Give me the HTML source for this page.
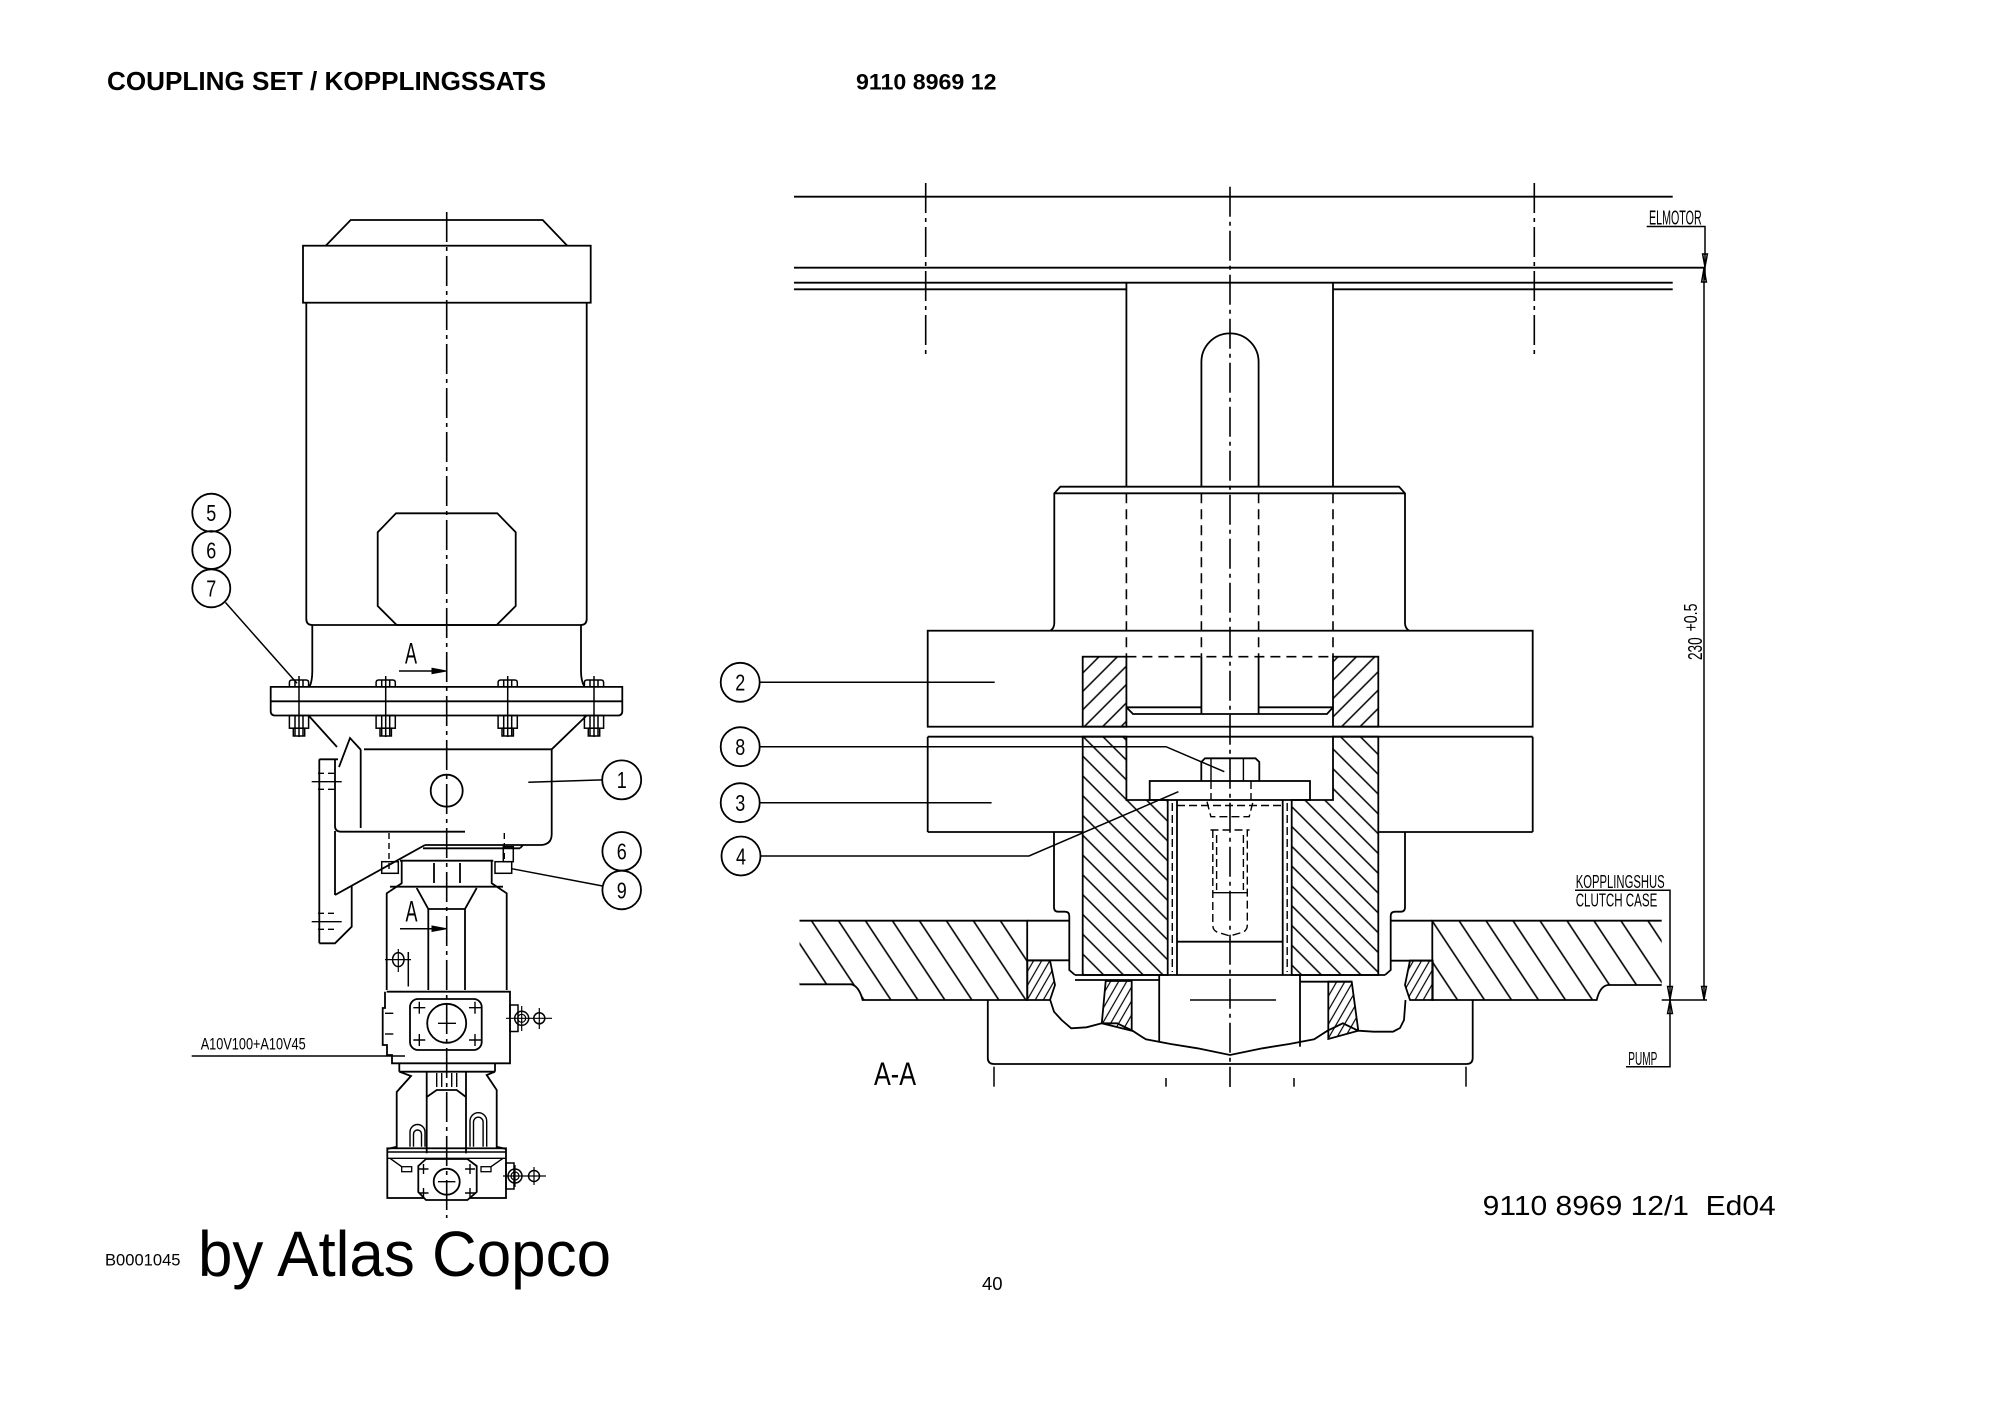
<!DOCTYPE html>
<html><head><meta charset="utf-8">
<style>
html,body{margin:0;padding:0;background:#fff;}
svg{display:block;}
text{font-family:"Liberation Sans",Arial,sans-serif;fill:#000;stroke:none;}
</style></head><body>
<svg width="2000" height="1415" viewBox="0 0 2000 1415" xmlns="http://www.w3.org/2000/svg">
<defs>
<pattern id="hs" patternUnits="userSpaceOnUse" width="13" height="13" patternTransform="rotate(45)"><line x1="6.5" y1="0" x2="6.5" y2="13" stroke="#000" stroke-width="1.5"/></pattern>
<pattern id="hb" patternUnits="userSpaceOnUse" width="14" height="14" patternTransform="rotate(-45)"><line x1="7" y1="0" x2="7" y2="14" stroke="#000" stroke-width="1.5"/></pattern>
<pattern id="hc" patternUnits="userSpaceOnUse" width="22.5" height="22.5" patternTransform="rotate(-33.5)"><line x1="11" y1="0" x2="11" y2="22.5" stroke="#000" stroke-width="1.6"/></pattern>
<pattern id="hp" patternUnits="userSpaceOnUse" width="7" height="7" patternTransform="rotate(30)"><line x1="3.5" y1="0" x2="3.5" y2="7" stroke="#000" stroke-width="1.2"/></pattern>
</defs>

<!-- HEADER -->
<text x="107" y="90" font-size="26" font-weight="bold" textLength="439" lengthAdjust="spacingAndGlyphs">COUPLING SET / KOPPLINGSSATS</text>
<text x="856" y="89.5" font-size="22.5" font-weight="bold" textLength="140.5" lengthAdjust="spacingAndGlyphs">9110 8969 12</text>

<g fill="none" stroke="#000" stroke-width="1.8">

<!-- ================= LEFT DRAWING ================= -->
<!-- motor cap -->
<polyline points="325.7,245.7 350.7,220 542.7,220 567.3,245.7"/>
<rect x="303" y="245.7" width="287.7" height="57"/>
<!-- motor body -->
<path d="M306.3,302.7 V619 Q306.3,625 312.3,625 H580.7 Q586.7,625 586.7,619 V302.7"/>
<!-- neck -->
<path d="M312.3,625 V671 Q312.3,681 309.5,686.9"/>
<path d="M581,625 V671 Q581,681 584.5,686.9"/>
<!-- terminal box -->
<polygon points="396,513.3 497.3,513.3 515.7,532.3 515.7,606 496.7,625 396.7,625 377.7,606 377.7,532.3"/>

<!-- flange -->
<path d="M270.7,686.9 H622.3 V711 Q622.3,715.5 618,715.5 H275 Q270.7,715.5 270.7,711 Z"/>
<line x1="270.7" y1="701.3" x2="622.3" y2="701.3"/>
<!-- bolts -->
<g stroke-width="1.5">
<path d="M289.4,686.9 V682.5 Q289.4,680 292,680 H306 Q308.6,680 308.6,682.5 V686.9"/>
<line x1="295" y1="680" x2="295" y2="686.9"/><line x1="303" y1="680" x2="303" y2="686.9"/>
<line x1="299" y1="676" x2="299" y2="737"/>
<rect x="289.4" y="715.5" width="19.2" height="12.7"/><rect x="293.3" y="728.2" width="11.4" height="7.8"/>
<line x1="295" y1="715.5" x2="295" y2="736"/><line x1="303" y1="715.5" x2="303" y2="736"/>

<path d="M376.1,686.9 V682.5 Q376.1,680 378.7,680 H392.7 Q395.3,680 395.3,682.5 V686.9"/>
<line x1="381.7" y1="680" x2="381.7" y2="686.9"/><line x1="389.7" y1="680" x2="389.7" y2="686.9"/>
<line x1="385.7" y1="676" x2="385.7" y2="737"/>
<rect x="376.1" y="715.5" width="19.2" height="12.7"/><rect x="380" y="728.2" width="11.4" height="7.8"/>
<line x1="381.7" y1="715.5" x2="381.7" y2="736"/><line x1="389.7" y1="715.5" x2="389.7" y2="736"/>

<path d="M498.1,686.9 V682.5 Q498.1,680 500.7,680 H514.7 Q517.3,680 517.3,682.5 V686.9"/>
<line x1="503.7" y1="680" x2="503.7" y2="686.9"/><line x1="511.7" y1="680" x2="511.7" y2="686.9"/>
<line x1="507.7" y1="676" x2="507.7" y2="737"/>
<rect x="498.1" y="715.5" width="19.2" height="12.7"/><rect x="502" y="728.2" width="11.4" height="7.8"/>
<line x1="503.7" y1="715.5" x2="503.7" y2="736"/><line x1="511.7" y1="715.5" x2="511.7" y2="736"/>

<path d="M584.4,686.9 V682.5 Q584.4,680 587,680 H601 Q603.6,680 603.6,682.5 V686.9"/>
<line x1="590" y1="680" x2="590" y2="686.9"/><line x1="598" y1="680" x2="598" y2="686.9"/>
<line x1="594" y1="676" x2="594" y2="737"/>
<rect x="584.4" y="715.5" width="19.2" height="12.7"/><rect x="588.3" y="728.2" width="11.4" height="7.8"/>
<line x1="590" y1="715.5" x2="590" y2="736"/><line x1="598" y1="715.5" x2="598" y2="736"/>
</g>

<!-- balloons 5 6 7 -->
<circle cx="211.3" cy="512.7" r="19"/>
<circle cx="211.3" cy="550" r="19"/>
<circle cx="211.3" cy="588.3" r="19"/>
<line x1="225.5" y1="602.5" x2="297" y2="683.3" stroke-width="1.5"/>

<!-- section arrow A (upper) -->
<line x1="399" y1="671" x2="433" y2="671" stroke-width="1.5"/>
<polygon points="432,668.3 446.7,671 432,673.7" fill="#000" stroke-width="1"/>

<!-- housing part 1 -->
<line x1="309" y1="716" x2="337" y2="747"/>
<polyline points="339,767 350,738 361,750"/>
<line x1="360.7" y1="750" x2="360.7" y2="828"/>
<line x1="364" y1="749.3" x2="551.7" y2="749.3"/>
<line x1="551.7" y1="749.3" x2="586.7" y2="715.5"/>
<path d="M551.7,749.3 V834 Q551.7,845 540,845 H425"/>
<line x1="423" y1="848.3" x2="520" y2="848.3"/>
<line x1="520" y1="848.3" x2="523" y2="845"/>
<path d="M335,760 V826 Q335,831.7 341,831.7 H465"/>
<circle cx="446.7" cy="790.7" r="16"/>
<!-- bracket -->
<line x1="319.3" y1="759.3" x2="338" y2="759.3"/>
<line x1="319.3" y1="759.3" x2="319.3" y2="943.3"/>
<line x1="335" y1="831" x2="335" y2="895"/>
<polyline points="319.3,943.3 335,943.3 351.7,926.7 351.7,886"/>
<line x1="335" y1="895" x2="425" y2="845"/>
<g stroke-width="1.4">
<line x1="311.7" y1="781.7" x2="341.7" y2="781.7"/>
<line x1="311.7" y1="921.7" x2="341.7" y2="921.7"/>
</g>
<g stroke-width="1.4" stroke-dasharray="6 4">
<line x1="318" y1="773.3" x2="335" y2="773.3"/><line x1="318" y1="789.3" x2="335" y2="789.3"/>
<line x1="318" y1="913.3" x2="335" y2="913.3"/><line x1="318" y1="929.3" x2="335" y2="929.3"/>
<line x1="389" y1="833" x2="389" y2="873"/>
<line x1="504.3" y1="833" x2="504.3" y2="863"/>
</g>
<!-- balloon 1 -->
<line x1="528.3" y1="782.3" x2="602.3" y2="779.9" stroke-width="1.5"/>
<circle cx="621.7" cy="779.9" r="19.5"/>
<!-- balloons 6 9 -->
<circle cx="621.7" cy="851.3" r="19.3"/>
<circle cx="621.7" cy="890" r="19.3"/>
<line x1="511.7" y1="868.7" x2="602.6" y2="886" stroke-width="1.5"/>

<!-- pump upper -->
<line x1="400" y1="860.7" x2="493.3" y2="860.7"/>
<rect x="381.7" y="861.7" width="16.6" height="11.6" stroke-width="1.5"/>
<rect x="495" y="861.7" width="16.7" height="11.6" stroke-width="1.5"/>
<rect x="503.3" y="846.7" width="10" height="15" stroke-width="1.5"/>
<path d="M401.7,861 V883.3 L386.7,893.3 V990"/>
<path d="M491.7,861 V883.3 L506.7,893.3 V990"/>
<line x1="390" y1="886.7" x2="503" y2="886.7"/>
<polyline points="416.7,888 428.3,909 465,909 476.7,888"/>
<line x1="428.3" y1="909" x2="428.3" y2="990"/>
<line x1="465" y1="909" x2="465" y2="990"/>
<line x1="434" y1="863" x2="434" y2="883"/>
<line x1="460" y1="863" x2="460" y2="883"/>
<!-- small lug -->
<ellipse cx="398.3" cy="959.6" rx="5.7" ry="7" stroke-width="1.5"/>
<line x1="385" y1="959.6" x2="411" y2="959.6" stroke-width="1.2"/>
<line x1="398.3" y1="949" x2="398.3" y2="972" stroke-width="1.2"/>
<line x1="408.3" y1="952" x2="408.3" y2="986.5" stroke-width="1.5"/>
<!-- section arrow A (lower) -->
<line x1="400" y1="928.7" x2="433" y2="928.7" stroke-width="1.5"/>
<polygon points="432,926 446.7,928.7 432,931.4" fill="#000" stroke-width="1"/>

<!-- pump middle block -->
<path d="M386.7,991.7 H510 V1063.3 H392 V1055 H387 V1045 H382.7 V1008 H385 V991.7"/>
<line x1="385" y1="1013.3" x2="393.3" y2="1013.3" stroke-width="1.4"/>
<line x1="385" y1="1034" x2="393.3" y2="1034" stroke-width="1.4"/>
<rect x="410" y="999" width="71.7" height="51" rx="8"/>
<circle cx="446.7" cy="1023.3" r="19.5"/>
<line x1="438" y1="1023.3" x2="456" y2="1023.3" stroke-width="1.4"/>
<g stroke-width="1.4">
<path d="M413.3,1007.7 h12 M419.3,1001.7 v12"/>
<path d="M469,1007.7 h12 M475,1001.7 v12"/>
<path d="M413.3,1040 h12 M419.3,1034 v12"/>
<path d="M469,1040 h12 M475,1034 v12"/>
</g>
<!-- right fitting -->
<rect x="510" y="1005" width="8" height="26.5" stroke-width="1.5"/>
<circle cx="521.7" cy="1018.3" r="7" stroke-width="1.5"/>
<circle cx="521.7" cy="1018.3" r="4" stroke-width="1.2"/>
<circle cx="539.3" cy="1018.3" r="5.5" stroke-width="1.5"/>
<line x1="506" y1="1018.3" x2="552" y2="1018.3" stroke-width="1.2"/>
<line x1="521.7" y1="1006" x2="521.7" y2="1031" stroke-width="1.2"/>
<line x1="539.3" y1="1008" x2="539.3" y2="1029" stroke-width="1.2"/>

<!-- neck -->
<line x1="399.3" y1="1063.3" x2="399.3" y2="1071.7"/>
<line x1="495" y1="1063.3" x2="495" y2="1071.7"/>
<line x1="399.3" y1="1071.7" x2="495" y2="1071.7"/>
<!-- second pump -->
<polyline points="399.3,1071.7 411,1076 396.7,1092 396.7,1146.7 387.3,1149"/>
<polyline points="495,1071.7 486.7,1075 496.7,1090 496.7,1146.7 506,1149"/>
<line x1="399" y1="1089" x2="411" y2="1076" stroke-width="1.3"/>
<line x1="426.7" y1="1071.7" x2="426.7" y2="1153.3"/>
<line x1="466" y1="1071.7" x2="466" y2="1153.3"/>
<polyline points="426.7,1097 436.7,1090 456.7,1090 466,1097"/>
<g stroke-width="1.4">
<line x1="436.7" y1="1073" x2="436.7" y2="1087"/>
<line x1="441.7" y1="1073" x2="441.7" y2="1087"/>
<line x1="451.7" y1="1073" x2="451.7" y2="1087"/>
<line x1="456.7" y1="1073" x2="456.7" y2="1087"/>
<path d="M410,1146.7 V1132 A7.5,7.5 0 0 1 425,1132 V1146.7"/>
<path d="M413.5,1146.7 V1134 A4,4 0 0 1 421.5,1134 V1146.7"/>
<path d="M470,1146.7 V1121 A8.3,8.3 0 0 1 486.7,1121 V1146.7"/>
<path d="M473.5,1146.7 V1122 A4.8,4.8 0 0 1 483.1,1122 V1146.7"/>
</g>
<!-- bottom block -->
<rect x="387.3" y="1148.3" width="118.7" height="49.7"/>
<line x1="387.3" y1="1152" x2="506" y2="1152" stroke-width="1.4"/>
<line x1="387.3" y1="1158.3" x2="506" y2="1158.3" stroke-width="1.4"/>
<line x1="390" y1="1158.3" x2="401.7" y2="1166.7" stroke-width="1.4"/>
<line x1="503" y1="1158.3" x2="491" y2="1166.7" stroke-width="1.4"/>
<rect x="401.7" y="1166.7" width="10" height="5" stroke-width="1.3"/>
<rect x="481" y="1166.7" width="10" height="5" stroke-width="1.3"/>
<polygon points="426,1159 467.4,1159 476.7,1166 476.7,1192 467.4,1200 426,1200 418.3,1192 418.3,1166" fill="#fff"/>
<circle cx="446.7" cy="1181.7" r="13"/>
<line x1="438" y1="1181.7" x2="455.4" y2="1181.7" stroke-width="1.4"/>
<g stroke-width="1.4">
<path d="M418.5,1169 h10 M423.5,1164 v10"/>
<path d="M465,1169 h10 M470,1164 v10"/>
<path d="M418.5,1193 h10 M423.5,1188 v10"/>
<path d="M465,1193 h10 M470,1188 v10"/>
</g>
<rect x="506" y="1163" width="8" height="26" stroke-width="1.5"/>
<circle cx="515" cy="1176" r="7" stroke-width="1.5"/>
<circle cx="515" cy="1176" r="4" stroke-width="1.2"/>
<circle cx="534" cy="1176" r="5.5" stroke-width="1.5"/>
<line x1="503" y1="1176" x2="546" y2="1176" stroke-width="1.2"/>
<line x1="515" y1="1165" x2="515" y2="1187" stroke-width="1.2"/>
<line x1="534" y1="1167" x2="534" y2="1185" stroke-width="1.2"/>

<!-- A10V leader -->
<line x1="191.7" y1="1056" x2="405" y2="1056" stroke-width="1.5"/>

<!-- ================= RIGHT DRAWING ================= -->
<line x1="794" y1="196.7" x2="1672.7" y2="196.7"/>
<line x1="794" y1="267.7" x2="1705" y2="267.7"/>
<line x1="794" y1="282.7" x2="1672.7" y2="282.7"/>
<line x1="794" y1="289.3" x2="1126.4" y2="289.3"/>
<line x1="1333" y1="289.3" x2="1672.7" y2="289.3"/>

<!-- shaft -->
<line x1="1126.4" y1="282.7" x2="1126.4" y2="486.7"/>
<line x1="1333" y1="282.7" x2="1333" y2="486.7"/>
<path d="M1201.4,486.7 V362 A28.6,28.6 0 0 1 1258.6,362 V486.7"/>

<!-- boss block -->
<path d="M1050.5,630.7 Q1054.3,628 1054.3,623 V493.3 L1060.4,486.7 H1399 L1405,493.3 V623 Q1405,628 1409,630.7"/>
<line x1="1054.3" y1="493.3" x2="1405" y2="493.3"/>

<!-- hidden lines -->
<g stroke-dasharray="10 6" stroke-width="1.6">
<line x1="1126.4" y1="493.3" x2="1126.4" y2="656.7"/>
<line x1="1201.4" y1="493.3" x2="1201.4" y2="656.7"/>
<line x1="1258.6" y1="493.3" x2="1258.6" y2="656.7"/>
<line x1="1333" y1="493.3" x2="1333" y2="656.7"/>
<line x1="1126.4" y1="656.7" x2="1333" y2="656.7"/>
</g>

<!-- block 2 -->
<rect x="927.7" y="630.7" width="605" height="96"/>
<!-- block 3 -->
<line x1="927.7" y1="736.7" x2="1532.7" y2="736.7"/>
<line x1="927.7" y1="736.7" x2="927.7" y2="832"/>
<line x1="927.7" y1="832" x2="1082.7" y2="832"/>
<line x1="1532.7" y1="736.7" x2="1532.7" y2="832"/>
<line x1="1378.3" y1="832" x2="1532.7" y2="832"/>

<!-- coupling hatches -->
<rect x="1082.7" y="656.7" width="43.7" height="70" fill="url(#hs)"/>
<rect x="1333" y="656.7" width="45.3" height="70" fill="url(#hs)"/>
<polygon points="1082.7,736.7 1126.4,736.7 1126.4,800 1167.7,800 1167.7,975 1082.7,975" fill="url(#hb)"/>
<polygon points="1333,736.7 1378.3,736.7 1378.3,975 1291.7,975 1291.7,800 1333,800" fill="url(#hb)"/>

<!-- shaft end in block 2 -->
<line x1="1126.4" y1="707.3" x2="1201.4" y2="707.3"/>
<line x1="1258.6" y1="707.3" x2="1333" y2="707.3"/>
<line x1="1201.4" y1="656.7" x2="1201.4" y2="714"/>
<line x1="1258.6" y1="656.7" x2="1258.6" y2="714"/>
<polyline points="1126.4,707.3 1133,714 1327,714 1333,707.3"/>

<!-- bolt head 8 -->
<path d="M1201.3,781 V762 L1205,758.3 H1255.5 L1259.3,762 V781"/>
<line x1="1211" y1="759" x2="1211" y2="781" stroke-width="1.4"/>
<line x1="1243.4" y1="759" x2="1243.4" y2="781" stroke-width="1.4"/>
<!-- washer 4 -->
<rect x="1149.7" y="781" width="160.3" height="19"/>
<!-- sleeve -->
<line x1="1177" y1="800" x2="1177" y2="975"/>
<line x1="1282.7" y1="800" x2="1282.7" y2="975"/>
<line x1="1177" y1="941.7" x2="1282.7" y2="941.7"/>
<g stroke-dasharray="8 4" stroke-width="1.4">
<line x1="1172.3" y1="803" x2="1172.3" y2="972"/>
<line x1="1287.2" y1="803" x2="1287.2" y2="972"/>
<line x1="1177" y1="805.5" x2="1282.7" y2="805.5"/>
<line x1="1211" y1="781" x2="1211" y2="800"/>
<line x1="1251" y1="781" x2="1251" y2="800"/>
<polyline points="1207,801.7 1210.9,816.7 1249.2,816.7 1253,801.7"/>
<line x1="1210.5" y1="830" x2="1249.5" y2="830"/>
<path d="M1212.8,830 V925 Q1212.8,931.7 1220,933 L1230,936 L1240,933 Q1247.3,931.7 1247.3,925 V830"/>
<line x1="1216.6" y1="835" x2="1216.6" y2="890"/>
<line x1="1243.4" y1="835" x2="1243.4" y2="890"/>
</g>
<line x1="1212.8" y1="892.7" x2="1247.3" y2="892.7" stroke-width="1.4"/>

<!-- clutch case plates -->
<path d="M799.5,920.7 H1027.2 V1000 H862.6 Q859,986 851,984.3 H799.5" fill="url(#hc)"/>
<path d="M1661.7,920.7 H1432.3 V1000 H1596.7 Q1600,986 1608,985 H1661.7" fill="url(#hc)"/>
<line x1="1027.2" y1="920.7" x2="1069.3" y2="920.7"/>
<line x1="1027.2" y1="960.3" x2="1069.3" y2="960.3"/>
<line x1="1390.7" y1="920.7" x2="1432.3" y2="920.7"/>
<line x1="1390.7" y1="960.7" x2="1432.3" y2="960.7"/>
<polygon points="1027.3,960.5 1050,960.5 1055,985 1050,1000 1027.3,1000" fill="url(#hp)"/>
<polygon points="1432.7,960.5 1410,960.5 1405,985 1410,1000 1432.7,1000" fill="url(#hp)"/>

<!-- block 3 lower steps -->
<path d="M1054,832 V907 Q1054,911.7 1058,911.7 H1065 Q1069.3,911.7 1069.3,916 V970 L1075,975"/>
<path d="M1405,832 V907 Q1405,911.7 1401,911.7 H1395 Q1390.7,911.7 1390.7,916 V970 L1385,975"/>
<line x1="1075" y1="975" x2="1385" y2="975"/>
<line x1="1075" y1="980" x2="1159.2" y2="980"/>
<line x1="1300" y1="981.7" x2="1351.7" y2="981.7"/>
<line x1="1159.2" y1="975" x2="1159.2" y2="1041.7"/>
<line x1="1300" y1="975" x2="1300" y2="1046.7"/>
<polygon points="1105.7,981 1131.7,981 1131.7,1030.7 1101.8,1023.3" fill="url(#hp)"/>
<polygon points="1328.3,981.7 1351.7,981.7 1358.3,1030.7 1328.3,1039" fill="url(#hp)"/>

<!-- pump -->
<path d="M987.8,1000 V1058 Q987.8,1064 994,1064 H1466.5 Q1472.7,1064 1472.7,1058 V1000"/>
<polyline points="1050.2,1000 1054,1011.7 1061.6,1020 1071.2,1028.3 1086.5,1027.3 1101.8,1023.3 1117.1,1023.3 1132.5,1030.7 1145.8,1039.3 1170.7,1044 1197.5,1048.3 1230,1055 1262.5,1048.3 1289.3,1044 1314.2,1039.3 1327.5,1030.7 1342.9,1023.3 1358.2,1030.7 1373.5,1031.7 1393,1031.7 1400,1028 1404,1020 1405.5,1000"/>
<line x1="1190" y1="1000" x2="1276" y2="1000" stroke-width="1.5"/>
<!-- bottom ticks -->
<line x1="994" y1="1066.7" x2="994" y2="1086.7" stroke-width="1.5"/>
<line x1="1166" y1="1078" x2="1166" y2="1086.7" stroke-width="1.5"/>
<line x1="1294" y1="1078" x2="1294" y2="1086.7" stroke-width="1.5"/>
<line x1="1466" y1="1066.7" x2="1466" y2="1086.7" stroke-width="1.5"/>

<!-- balloons right -->
<circle cx="740.2" cy="682.3" r="19.5"/>
<circle cx="740.2" cy="746.7" r="19.5"/>
<circle cx="740.2" cy="802.7" r="19.5"/>
<circle cx="741" cy="856" r="19.5"/>
<g stroke-width="1.5">
<line x1="759.7" y1="682.3" x2="994.7" y2="682.3"/>
<polyline points="759.7,746.7 1166,746.7 1224.3,771.7"/>
<line x1="759.7" y1="802.7" x2="991.6" y2="802.7"/>
<polyline points="760.5,856 1029,856 1178.4,791.7"/>
</g>

<!-- annotations right -->
<g stroke-width="1.5">
<polyline points="1646.7,226.5 1705,226.5 1705,280"/>
<line x1="1704" y1="267.7" x2="1704" y2="1000"/>
<line x1="1661.7" y1="1000" x2="1707" y2="1000"/>
<polyline points="1575,890.3 1670,890.3 1670,1066.7 1626,1066.7"/>
<polygon points="1705,267 1702.6,254 1707.4,254"/>
<polygon points="1704,268.5 1701.6,282 1706.4,282"/>
<polygon points="1704,999.5 1701.6,986.5 1706.4,986.5"/>
<polygon points="1670,999.5 1667.6,986.5 1672.4,986.5"/>
<polygon points="1670,1000.5 1667.6,1013.5 1672.4,1013.5"/>
</g>
</g>

<!-- centerlines -->
<g fill="none" stroke="#000" stroke-width="1.6" stroke-dasharray="30 5 4 5">
<line x1="925.7" y1="183" x2="925.7" y2="358"/>
<line x1="1534.3" y1="183" x2="1534.3" y2="358"/>
<line x1="1230" y1="186.7" x2="1230" y2="1087"/>
<line x1="446.7" y1="212" x2="446.7" y2="1218"/>
</g>

<!-- LABEL TEXTS -->
<g font-size="23" text-anchor="middle">
<text x="211.3" y="521" textLength="10" lengthAdjust="spacingAndGlyphs">5</text>
<text x="211.3" y="558.3" textLength="10" lengthAdjust="spacingAndGlyphs">6</text>
<text x="211.3" y="596.6" textLength="10" lengthAdjust="spacingAndGlyphs">7</text>
<text x="621.7" y="788.2" textLength="10" lengthAdjust="spacingAndGlyphs">1</text>
<text x="621.7" y="859.6" textLength="10" lengthAdjust="spacingAndGlyphs">6</text>
<text x="621.7" y="898.3" textLength="10" lengthAdjust="spacingAndGlyphs">9</text>
<text x="740.2" y="690.6" textLength="10" lengthAdjust="spacingAndGlyphs">2</text>
<text x="740.2" y="755" textLength="10" lengthAdjust="spacingAndGlyphs">8</text>
<text x="740.2" y="811" textLength="10" lengthAdjust="spacingAndGlyphs">3</text>
<text x="741" y="864.3" textLength="10" lengthAdjust="spacingAndGlyphs">4</text>
</g>
<text x="405" y="663.3" font-size="30" textLength="12" lengthAdjust="spacingAndGlyphs">A</text>
<text x="405.5" y="921.7" font-size="30" textLength="12" lengthAdjust="spacingAndGlyphs">A</text>
<text x="200.7" y="1049.3" font-size="16.8" textLength="105" lengthAdjust="spacingAndGlyphs">A10V100+A10V45</text>
<text x="874" y="1085" font-size="32" textLength="42" lengthAdjust="spacingAndGlyphs">A-A</text>
<text x="1649" y="224.5" font-size="20" textLength="52.7" lengthAdjust="spacingAndGlyphs">ELMOTOR</text>
<text x="1575.7" y="887.8" font-size="18.5" textLength="89" lengthAdjust="spacingAndGlyphs">KOPPLINGSHUS</text>
<text x="1575.7" y="906.3" font-size="18.5" textLength="81.6" lengthAdjust="spacingAndGlyphs">CLUTCH CASE</text>
<text x="1628.3" y="1064.8" font-size="18.5" textLength="29" lengthAdjust="spacingAndGlyphs">PUMP</text>
<text transform="translate(1702,660) rotate(-90)" font-size="20" textLength="22.6" lengthAdjust="spacingAndGlyphs">230</text>
<text transform="translate(1697,631.5) rotate(-90)" font-size="18" textLength="28" lengthAdjust="spacingAndGlyphs">+0.5</text>

<!-- FOOTER -->
<text x="105" y="1265.5" font-size="16.5" textLength="75.5" lengthAdjust="spacingAndGlyphs">B0001045</text>
<text x="198" y="1276" font-size="64" textLength="413" lengthAdjust="spacingAndGlyphs">by Atlas Copco</text>
<text x="982" y="1290" font-size="18.5">40</text>
<text x="1482.7" y="1215" font-size="28" textLength="293" lengthAdjust="spacingAndGlyphs" style="white-space:pre">9110 8969 12/1  Ed04</text>
</svg>
</body></html>
